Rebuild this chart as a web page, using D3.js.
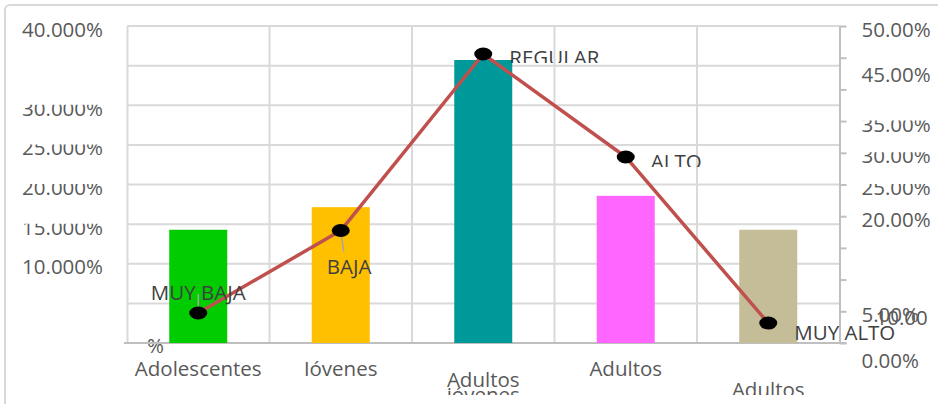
<!DOCTYPE html>
<html><head><meta charset="utf-8">
<script src="https://cdn.jsdelivr.net/npm/d3@7"></script>
<style>
body{margin:0;background:#fff;}
svg text{font-family:"Open Sans",sans-serif;font-size:20.5px;}
</style>
</head><body>
<svg id="c" width="938" height="404"></svg>
<script>
// ---------- data ----------
const categories = ["Adolescentes","Jóvenes","Adultos jóvenes","Adultos","Adultos mayores"];
const barValues = [0.1429, 0.1714, 0.3571, 0.1857, 0.1429];
const barColors = ["#00CC00","#FFC000","#009999","#FF66FF","#C4BD97"];
const lineValues = [0.0473, 0.1774, 0.4558, 0.2934, 0.0315];
const lineLabels = ["MUY BAJA","BAJA","REGULAR","ALTO","MUY ALTO"];
const leftTicks = [0, 0.05, 0.10, 0.15, 0.20, 0.25, 0.30, 0.35, 0.40];
const leftTickLabels = ["%", "", "10.000%", "15.000%", "20.000%", "25.000%", "30.000%", "", "40.000%"];
const rightTicks = [0, 0.05, 0.10, 0.15, 0.20, 0.25, 0.30, 0.35, 0.40, 0.45, 0.50];
const rightTickLabels = ["0.00%", "5.00%", "", "", "20.00%", "25.00%", "30.00%", "35.00%", "", "45.00%", "50.00%"];
const strayRightLabel = "10.00";

// ---------- layout ----------
const svg = d3.select("#c");
const defs = svg.append("defs");
const L = 127, R = 839.5, T = 26, B = 343;
const gridColor = "#D9D9D9", axisColor = "#BFBFBF", textColor = "#595959", labelColor = "#404040";

let clipN = 0;
function clipRect(x, y, w, h){
  const id = "cp" + (clipN++);
  defs.append("clipPath").attr("id", id).attr("clipPathUnits","userSpaceOnUse")
    .append("rect").attr("x", x).attr("y", y).attr("width", w).attr("height", h);
  return `url(#${id})`;
}

// outer chart border
svg.append("rect").attr("x",5).attr("y",5).attr("width",980).attr("height",440)
  .attr("rx",5).attr("fill","none").attr("stroke",gridColor).attr("stroke-width",2);

const x = d3.scaleBand().domain(categories).range([L, R]);
const xBar = d3.scaleBand().domain(categories).range([L, R]).paddingInner(0.593).paddingOuter(0.2965);
const yL = d3.scaleLinear().domain([0, 0.40]).range([B, T]);
const yR = d3.scaleLinear().domain([0, 0.50]).range([B, T]);

// horizontal gridlines
svg.append("g").selectAll("line").data(leftTicks).join("line")
  .attr("x1", L).attr("x2", R).attr("y1", d => yL(d)).attr("y2", d => yL(d))
  .attr("stroke", gridColor).attr("stroke-width", 2);
// vertical gridlines at category boundaries
svg.append("g").selectAll("line").data(categories.slice(1)).join("line")
  .attr("x1", d => x(d)).attr("x2", d => x(d)).attr("y1", T).attr("y2", B)
  .attr("stroke", gridColor).attr("stroke-width", 2);

// left axis
const gL = svg.append("g").attr("transform", `translate(${L},0)`)
  .call(d3.axisLeft(yL).tickValues(leftTicks).tickSize(0).tickPadding(24)
    .tickFormat((d,i) => leftTickLabels[i]));
gL.select(".domain").attr("stroke", gridColor).attr("stroke-width", 2);
const topClipL = clipRect(-200, -1, 400, 60);
gL.selectAll(".tick text").attr("fill", textColor).attr("dy", null).attr("y", 10)
  .style("font-size","20.5px")
  .each(function(d){
    const t = d3.select(this);
    if (d >= 0.15 && d <= 0.30) t.attr("clip-path", topClipL);
    if (d === 0) t.attr("x", 20).attr("y", 9).attr("text-anchor", "start");
  });

// right axis
const gR = svg.append("g").attr("transform", `translate(${R},0)`)
  .call(d3.axisRight(yR).tickValues(rightTicks).tickSize(7).tickSizeOuter(0).tickPadding(15)
    .tickFormat((d,i) => rightTickLabels[i]));
gR.select(".domain").attr("stroke", axisColor).attr("stroke-width", 2);
gR.selectAll(".tick line").attr("stroke", axisColor).attr("stroke-width", 2);
const topClipR = clipRect(-200, -1, 400, 60);
gR.selectAll(".tick text").attr("fill", textColor).attr("dy", null).style("font-size","20.5px")
  .attr("y", d => (Math.abs(d - 0.45) < 1e-9 || d === 0) ? 24 : 10)
  .each(function(d){
    if (d >= 0.249 && d <= 0.351) d3.select(this).attr("clip-path", topClipR);
  });
// stray overlapping label near the 5% tick
svg.append("text").attr("x", R + 36).attr("y", yR(0.05) + 14)
  .attr("fill", textColor).text(strayRightLabel);

// bottom axis line
svg.append("line").attr("x1", L - 3).attr("x2", R + 7).attr("y1", B).attr("y2", B)
  .attr("stroke", axisColor).attr("stroke-width", 2);

// bars
svg.append("g").selectAll("rect").data(categories).join("rect")
  .attr("x", d => xBar(d)).attr("width", xBar.bandwidth())
  .attr("y", (d,i) => yL(barValues[i])).attr("height", (d,i) => B - yL(barValues[i]))
  .attr("fill", (d,i) => barColors[i]);

// category labels (first line baseline / clip bottom per category, as in reference)
const catBase = [376, 376, 387, 376, 397];
const catClip = [376, 376, 395, 376, 395];
categories.forEach((c, i) => {
  const words = c.split(" ");
  const t = svg.append("text").attr("x", x(c) + x.bandwidth()/2).attr("y", catBase[i])
    .attr("text-anchor", "middle").attr("fill", textColor)
    .attr("clip-path", clipRect(0, 340, 938, catClip[i] - 340));
  words.forEach((w, j) => {
    t.append("tspan").attr("x", x(c) + x.bandwidth()/2).attr("dy", j === 0 ? 0 : 15).text(w);
  });
});

// line
const pts = categories.map((c, i) => [x(c) + x.bandwidth()/2, yR(lineValues[i])]);
svg.append("path").attr("d", d3.line()(pts)).attr("fill","none")
  .attr("stroke","#C0504D").attr("stroke-width",3.5).attr("stroke-linejoin","round");

// leader lines
const leaders = [[[0,-19],[0,-1]], [[0,1],[3,21]], null, null, null];
leaders.forEach((ld, i) => {
  if (!ld) return;
  svg.append("line").attr("x1", pts[i][0] + ld[0][0]).attr("y1", pts[i][1] + ld[0][1])
    .attr("x2", pts[i][0] + ld[1][0]).attr("y2", pts[i][1] + ld[1][1])
    .attr("stroke","#A6A6A6").attr("stroke-width",1.5);
});

// markers
svg.append("g").selectAll("ellipse").data(pts).join("ellipse")
  .attr("cx", d => d[0]).attr("cy", d => d[1]).attr("rx", 9).attr("ry", 6.5).attr("fill", "#000");

// data labels
const lblPlace = [
  {dx: 0, dy: -13, anchor: "middle", clip: null},
  {dx: -14, dy: 43.5, anchor: "start", clip: null},
  {dx: 26, dy: 11, anchor: "start", clip: 9},
  {dx: 25, dy: 12, anchor: "start", clip: 10},
  {dx: 26, dy: 17, anchor: "start", clip: null}
];
lineLabels.forEach((l, i) => {
  const p = lblPlace[i];
  const t = svg.append("text").attr("x", pts[i][0] + p.dx).attr("y", pts[i][1] + p.dy)
    .attr("text-anchor", p.anchor).attr("fill", labelColor).text(l);
  if (p.clip !== null) t.attr("clip-path", clipRect(0, 0, 938, pts[i][1] + p.clip));
});
</script>
</body></html>
